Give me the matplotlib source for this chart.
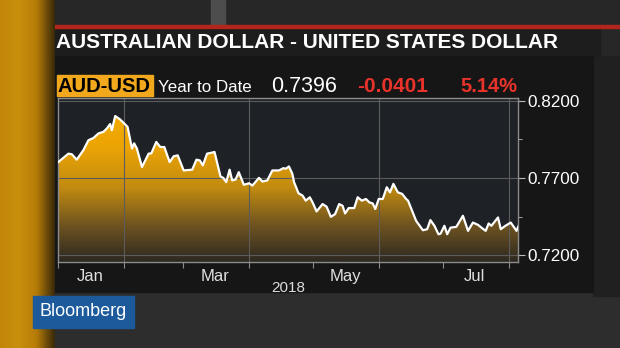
import numpy as np
import pandas as pd
import matplotlib
matplotlib.use('Agg')
import matplotlib.pyplot as plt
import matplotlib.dates as mdates
from matplotlib.colors import LinearSegmentedColormap
from matplotlib.patches import Rectangle
from matplotlib.ticker import FixedLocator, FixedFormatter

plt.rcParams['font.family'] = ['Liberation Sans', 'DejaVu Sans']

# AUD-USD 2018, days counted from 1 Jan
days = [0.1, 4.9, 6.5, 8.8, 11.9, 14.3, 16.7, 19.0, 21.4, 23.0, 24.5, 25.3, 26.9, 29.2,
        32.7, 34.8, 35.8, 37.1, 39.5, 42.6, 43.9, 46.2, 48.1, 50.0, 52.5, 54.4, 56.3,
        59.1, 63.1, 65.1, 66.7, 68.1, 70.1, 72.5, 73.6, 76.4, 77.7, 79.1, 80.7, 81.9,
        83.5, 85.0, 87.4, 89.8, 91.4, 94.5, 96.1, 98.4, 100.8, 103.9, 106.0, 107.1,
        108.6, 110.2, 111.0, 113.1, 115.0, 116.5, 118.4, 119.7, 121.6, 124.4, 126.3,
        128.3, 130.3, 132.2, 133.8, 135.0, 136.7, 139.3, 140.9, 142.9, 144.8, 146.4,
        148.0, 149.2, 150.8, 152.7, 154.6, 156.1, 157.7, 159.8, 161.8, 163.7, 164.6,
        168.4, 171.6, 173.6, 175.1, 177.0, 178.9, 179.9, 181.7, 183.0, 184.6, 187.3,
        190.4, 192.8, 195.1, 197.5, 199.1, 201.1, 202.5, 203.8, 206.9, 208.2, 210.4,
        212.9, 215.6, 216.8]
values = [0.7803, 0.7858, 0.7854, 0.7819, 0.7880, 0.7945, 0.7960, 0.7989, 0.8000, 0.8022,
          0.8050, 0.8010, 0.8102, 0.8080, 0.8032, 0.7891, 0.7925, 0.7891, 0.7771, 0.7858,
          0.7860, 0.7934, 0.7901, 0.7901, 0.7803, 0.7841, 0.7847, 0.7749, 0.7754, 0.7819,
          0.7814, 0.7782, 0.7858, 0.7865, 0.7869, 0.7710, 0.7701, 0.7673, 0.7754, 0.7684,
          0.7690, 0.7738, 0.7656, 0.7666, 0.7651, 0.7701, 0.7677, 0.7684, 0.7749, 0.7749,
          0.7764, 0.7760, 0.7775, 0.7727, 0.7673, 0.7601, 0.7586, 0.7553, 0.7575, 0.7542,
          0.7483, 0.7531, 0.7514, 0.7448, 0.7466, 0.7531, 0.7520, 0.7470, 0.7505, 0.7505,
          0.7575, 0.7553, 0.7564, 0.7542, 0.7535, 0.7499, 0.7564, 0.7564, 0.7640, 0.7607,
          0.7662, 0.7607, 0.7597, 0.7564, 0.7553, 0.7422, 0.7361, 0.7368, 0.7427, 0.7390,
          0.7335, 0.7339, 0.7390, 0.7335, 0.7378, 0.7383, 0.7455, 0.7357, 0.7411, 0.7396,
          0.7378, 0.7357, 0.7405, 0.7390, 0.7444, 0.7368, 0.7390, 0.7411, 0.7357, 0.7396]

month_labels = ['Jan', 'Mar', 'May', 'Jul']
label_dates = ['2018-01-16', '2018-03-16', '2018-05-16', '2018-07-16']
y_ticks = [0.72, 0.77, 0.82]
y_minor = [0.745, 0.795]
title = 'AUSTRALIAN DOLLAR - UNITED STATES DOLLAR'
header = ['Year to Date', '0.7396', '-0.0401', '5.14%']

start = pd.Timestamp('2018-01-01')
dates = start + pd.to_timedelta(days, unit='D')
x_lo = mdates.date2num(start)
x_hi = mdates.date2num(start + pd.Timedelta(days=216.3))
y_lo, y_hi = 0.7155, 0.8221

W, H = 620, 348
fig = plt.figure(figsize=(W / 100, H / 100), dpi=100)
fig.patch.set_facecolor('#262626')

# background frame in pixel coordinates
bg = fig.add_axes([0, 0, 1, 1], zorder=0)
bg.set_xlim(0, W)
bg.set_ylim(H, 0)
bg.axis('off')
bg.add_patch(Rectangle((0, 0), W, H, color='#272727'))
bg.add_patch(Rectangle((48, 292), W - 48, 56, color='#2d2d2d'))
bg.add_patch(Rectangle((211, 0), 14, 26, color='#4d4d4d'))
bg.add_patch(Rectangle((593, 56), 27, 240, color='#202020'))
bg.add_patch(Rectangle((48, 28), 552, 28, color='#1d1d1d'))
bg.add_patch(Rectangle((48, 56), 545, 236, color='#161616'))
bg.add_patch(Rectangle((48, 25), W - 48, 2.5, color='#b3261e'))
# gold strip on the left with shadow
strip = np.linspace(0, 1, 50).reshape(1, -1)
strip_cmap = LinearSegmentedColormap.from_list('strip', ['#c28609', '#c98f0d', '#b67c07', '#3a2a0a'])
bg.imshow(strip, extent=[0, 55, H, 0], aspect='auto', cmap=strip_cmap, zorder=1)

bg.text(56, 42, title, color='white', fontsize=15, fontweight='bold', va='center', ha='left')
bg.add_patch(Rectangle((57, 75), 96, 21, color='#f1a81c'))
bg.text(58, 86, 'AUD-USD', color='black', fontsize=14.5, fontweight='bold', va='center', ha='left')
bg.text(158, 87, header[0], color='white', fontsize=12.2, va='center', ha='left')
bg.text(271, 86, header[1], color='white', fontsize=15.5, va='center', ha='left')
bg.text(357, 86, header[2], color='#e8332b', fontsize=15, fontweight='bold', va='center', ha='left')
bg.text(460, 86, header[3], color='#e8332b', fontsize=14.5, fontweight='bold', va='center', ha='left')
bg.text(288, 288, '2018', color='#dddddd', fontsize=11, va='center', ha='center')
bg.add_patch(Rectangle((33, 296), 101, 32, color='#1c5a9c'))
bg.text(83, 312, 'Bloomberg', color='white', fontsize=13, va='center', ha='center')

# chart
ax = fig.add_axes([58 / W, 1 - 262 / H, 460 / W, (262 - 97.7) / H], zorder=2)
ax.set_facecolor('#1e2126')
ax.set_xlim(x_lo, x_hi)
ax.set_ylim(y_lo, y_hi)

fill = ax.fill_between(dates, values, y_lo, color='none', lw=0)
grad = np.linspace(0, 1, 256).reshape(-1, 1)
fill_cmap = LinearSegmentedColormap.from_list(
    'gold', [(0, '#2c2820'), (0.22, '#6e5320'), (0.45, '#c28b10'), (0.7, '#eca405'), (1, '#f8b000')])
im = ax.imshow(grad, extent=[x_lo, x_hi, y_lo, y_hi], origin='lower', aspect='auto',
               cmap=fill_cmap, zorder=1)
im.set_clip_path(fill.get_paths()[0], transform=ax.transData)
ax.plot(dates, values, color='white', lw=1.6, zorder=3, solid_joinstyle='round')

month_starts = pd.date_range('2018-01-01', '2018-08-01', freq='MS')
for d in month_starts[1::2]:
    ax.axvline(d, color='#5c5c5c', lw=0.8, zorder=2)
for v in y_ticks:
    ax.axhline(v, color='#5c5c5c', lw=0.8, zorder=2)

for s in ax.spines.values():
    s.set_color('#8c8c8c')
    s.set_linewidth(1)

ax.xaxis.set_major_locator(FixedLocator(mdates.date2num(month_starts)))
ax.xaxis.set_major_formatter(FixedFormatter([''] * len(month_starts)))
ax.xaxis.set_minor_locator(FixedLocator(mdates.date2num(pd.to_datetime(label_dates))))
ax.xaxis.set_minor_formatter(FixedFormatter(month_labels))
ax.tick_params(axis='x', which='major', length=4, color='#8c8c8c', direction='out')
ax.tick_params(axis='x', which='minor', length=0, labelsize=12, labelcolor='#e0e0e0', pad=5)

ax.yaxis.tick_right()
ax.set_yticks(y_ticks)
ax.set_yticklabels(['%.4f' % v for v in y_ticks])
ax.set_yticks(y_minor, minor=True)
ax.tick_params(axis='y', which='major', length=5, color='#bbbbbb', labelsize=12.3,
               labelcolor='white', pad=2)
ax.tick_params(axis='y', which='minor', length=3, color='#bbbbbb')

fig.savefig('out.png', dpi=100, facecolor=fig.get_facecolor())
